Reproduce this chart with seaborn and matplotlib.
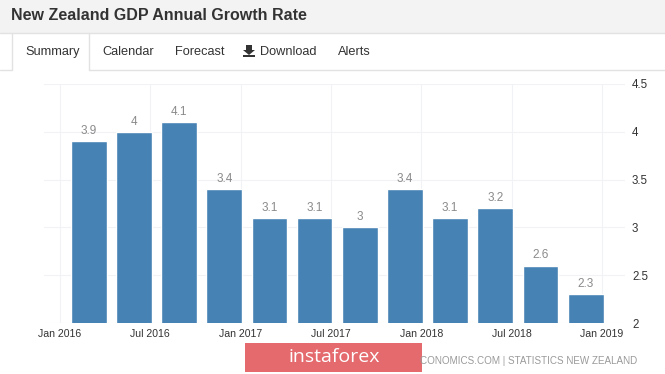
import matplotlib

matplotlib.use("Agg")
import matplotlib.pyplot as plt
from matplotlib.patches import Polygon, Rectangle
import numpy as np
import pandas as pd
import seaborn as sns

quarters = ["Q4 15", "Q1 16", "Q2 16", "Q3 16", "Q4 16", "Q1 17",
            "Q2 17", "Q3 17", "Q4 17", "Q1 18", "Q2 18", "Q3 18"]
growth = [3.9, 4.0, 4.1, 3.4, 3.1, 3.1, 3.0, 3.4, 3.1, 3.2, 2.6, 2.3]
value_labels = ["3.9", "4", "4.1", "3.4", "3.1", "3.1", "3", "3.4", "3.1", "3.2", "2.6", "2.3"]
date_labels = ["Jan 2016", "Jul 2016", "Jan 2017", "Jul 2017", "Jan 2018", "Jul 2018", "Jan 2019"]
y_ticks = [2, 2.5, 3, 3.5, 4, 4.5]
y_labels = ["2", "2.5", "3", "3.5", "4", "4.5"]
tabs = ["Calendar", "Forecast", "Download", "Alerts"]

W, H = 665, 374
BLUE, GRID, INK = "#4682b4", "#f0f2f5", "#333333"
EDGE = "#e2e2e2"

sns.set_theme(style="white")
plt.rcParams["font.family"] = ["Liberation Sans", "DejaVu Sans"]

fig = plt.figure(figsize=(W / 100, H / 100), dpi=100, facecolor="white")

# plot area in pixels: x 44-625, y 84-323
ax = fig.add_axes([44 / W, 1 - 323 / H, 581 / W, 239 / H])
df = pd.DataFrame({"quarter": quarters, "growth": growth})
sns.barplot(data=df, x="quarter", y="growth", color=BLUE, saturation=1, width=0.79, ax=ax)

step = 45.18
ax.set_xlim((44 - 88.7) / step, (625 - 88.7) / step)
ax.set_ylim(2, 4.5)
ax.set_xlabel("")
ax.set_ylabel("")
ax.bar_label(ax.containers[0], labels=value_labels, padding=3, color="#8a8a8a", fontsize=8.5)

# date ticks sit half a year apart, i.e. every 2 bars
ax.set_xticks(np.arange(len(date_labels)) * 2 - 0.64, date_labels)
ax.set_yticks(y_ticks, y_labels)
ax.yaxis.tick_right()
ax.tick_params(axis="x", length=0, pad=4, labelsize=7.6, labelcolor=INK)
ax.tick_params(axis="y", length=0, pad=5, labelsize=8.3, labelcolor=INK)
ax.grid(True, color=GRID, lw=0.8)
ax.set_axisbelow(True)
sns.despine(ax=ax, left=True, right=True, top=True, bottom=True)

# page furniture, drawn in pixel coordinates
page = fig.add_axes([0, 0, 1, 1], zorder=5)
page.set_xlim(0, W)
page.set_ylim(H, 0)
page.axis("off")
page.patch.set_alpha(0)

page.add_patch(Rectangle((0, 0), W, 33, color="#f3f3f3", lw=0))
page.plot([0, W], [33, 33], color=EDGE, lw=1)
page.plot([0, 12, 12], [69.5, 69.5, 33], color=EDGE, lw=1)
page.plot([88.5, 88.5], [33, 69.5], color=EDGE, lw=1)
page.plot([88.5, W], [69.5, 69.5], color=EDGE, lw=1)

page.text(11, 15, "New Zealand GDP Annual Growth Rate", fontsize=11.5, fontweight="bold",
          color=INK, va="center")
page.text(25, 52, "Summary", fontsize=9.2, color=INK, va="center")
for label, x in zip(tabs, [102, 175, 260, 338]):
    page.text(x, 52, label, fontsize=9.2, color=INK, va="center")

# download icon
page.add_patch(Polygon([(246, 45), (252, 45), (252, 50), (255, 50), (249, 55), (243, 50), (246, 50)],
                       color=INK, lw=0))
page.add_patch(Rectangle((243, 54.5), 12, 2.5, color=INK, lw=0))

# source line and watermark
page.text(637, 361, "CONOMICS.COM | STATISTICS NEW ZEALAND", fontsize=7.1, color="#9a9a9a",
          ha="right", va="center")
page.add_patch(Rectangle((245, 343), 177, 29, color="#e46a6e", lw=0))
page.text(334, 357.5, "instaforex", fontsize=14, color="white", ha="center", va="center",
          family=["Open Sans", "DejaVu Sans"])

fig.savefig("out.png", dpi=100)
plt.close(fig)
